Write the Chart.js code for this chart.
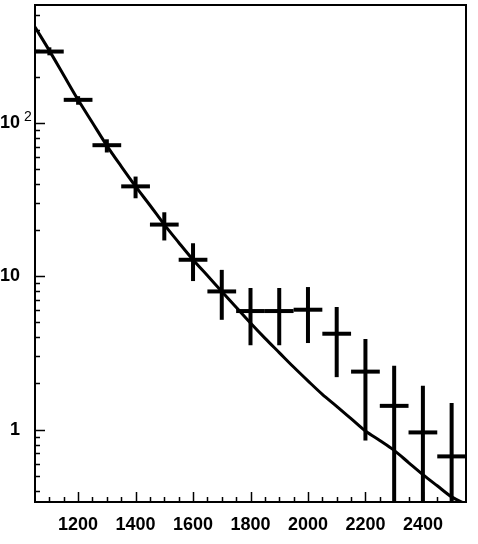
<!DOCTYPE html>
<html>
<head>
<meta charset="utf-8">
<script src="https://cdn.jsdelivr.net/npm/chart.js@4.4.1/dist/chart.umd.min.js"></script>
<style>
html, body { margin: 0; padding: 0; background: #fff; }
</style>
</head>
<body>
<canvas id="grafica" width="478" height="544"></canvas>
<script>
// bins (centre) and measured counts
const binCentres = [1100, 1200, 1300, 1400, 1500, 1600, 1700, 1800, 1900, 2000, 2100, 2200, 2300, 2400, 2500];
const binHalfWidth = 50;
const counts = [291, 141, 71.4, 38.5, 21.7, 12.8, 7.96, 5.93, 5.93, 6.05, 4.22, 2.39, 1.43, 0.96, 0.67];
const errUpper = [310, 149, 78, 44.6, 26.1, 16.4, 11.0, 8.38, 8.38, 8.5, 6.3, 3.9, 2.61, 1.93, 1.49];
// last three bars run below the axis (0.1 = off the bottom, clipped)
const errLower = [275, 131, 64, 32.2, 17.1, 9.3, 5.2, 3.55, 3.55, 3.67, 2.2, 0.85, 0.1, 0.1, 0.1];

// fitted curve
const fitX = [1050, 1100, 1150, 1200, 1250, 1300, 1350, 1400, 1450, 1500, 1550, 1600, 1650, 1700, 1750,
              1800, 1850, 1900, 1950, 2000, 2050, 2100, 2150, 2200, 2250, 2300, 2350, 2400, 2450, 2500, 2550];
const fitY = [420, 295, 204, 141, 100, 71, 52, 38.5, 29, 21.7, 16.6, 12.8, 10.1, 7.96, 6.28,
              4.96, 3.95, 3.18, 2.56, 2.08, 1.70, 1.42, 1.18, 0.98, 0.85, 0.733, 0.611, 0.51, 0.431, 0.365, 0.327];

// axis labels and tick marks
const xLabels = [1200, 1400, 1600, 1800, 2000, 2200, 2400];
const xMinor = [];
for (let v = 1100; v <= 2500; v += 50) xMinor.push(v);
const yLabels = [1, 10, 100];
const yMinor = [0.4, 0.5, 0.6, 0.7, 0.8, 0.9, 2, 3, 4, 5, 6, 7, 8, 9, 20, 30, 40, 50, 60, 70, 80, 90, 200, 300, 400, 500];

const FONT = '"Liberation Sans", Arial, Helvetica, sans-serif';

const datasets = [];
binCentres.forEach((x, i) => {
    datasets.push({
        data: [{ x: x - binHalfWidth, y: counts[i] }, { x: x + binHalfWidth, y: counts[i] }],
        borderColor: '#000', borderWidth: 4, borderCapStyle: 'butt'
    });
    datasets.push({
        data: [{ x: x, y: errLower[i] }, { x: x, y: errUpper[i] }],
        borderColor: '#000', borderWidth: 4, borderCapStyle: 'butt'
    });
});
datasets.push({
    data: fitX.map((x, i) => ({ x: x, y: fitY[i] })),
    borderColor: '#000', borderWidth: 3, cubicInterpolationMode: 'monotone'
});
datasets.forEach(d => { d.showLine = true; d.pointRadius = 0; d.clip = 0; });

// frame, inside tick marks and the superscript of 10^2
const marcoPlugin = {
    id: 'marco',
    afterDatasetsDraw(chart) {
        const ctx = chart.ctx;
        const a = chart.chartArea;
        const xs = chart.scales.x, ys = chart.scales.y;
        ctx.save();
        ctx.strokeStyle = '#000';
        ctx.lineWidth = 1.5;
        ctx.beginPath();
        xMinor.forEach(v => {
            const px = Math.round(xs.getPixelForValue(v)) + 0.5;
            const len = xLabels.includes(v) ? 10 : 5;
            ctx.moveTo(px, a.bottom);
            ctx.lineTo(px, a.bottom - len);
        });
        yMinor.concat(yLabels).forEach(v => {
            const py = Math.round(ys.getPixelForValue(v)) + 0.5;
            const len = yLabels.includes(v) ? 10 : 5;
            ctx.moveTo(a.left, py);
            ctx.lineTo(a.left + len, py);
        });
        ctx.stroke();
        ctx.lineWidth = 2;
        ctx.strokeRect(a.left, a.top, a.right - a.left, a.bottom - a.top);
        ctx.fillStyle = '#000';
        ctx.font = '14px ' + FONT;
        ctx.textAlign = 'left';
        ctx.textBaseline = 'middle';
        ctx.fillText('2', 24, ys.getPixelForValue(100) - 6);
        ctx.restore();
    }
};

new Chart(document.getElementById('grafica').getContext('2d'), {
    type: 'scatter',
    data: { datasets: datasets },
    options: {
        responsive: false,
        devicePixelRatio: 1,
        animation: false,
        layout: { padding: { top: 5, right: 12, left: 0, bottom: 0 } },
        plugins: { legend: { display: false }, tooltip: { enabled: false } },
        scales: {
            x: {
                type: 'linear', min: 1050, max: 2550, bounds: 'data',
                grid: { display: false, drawTicks: false },
                border: { display: false },
                afterBuildTicks: s => { s.ticks = xLabels.map(v => ({ value: v })); },
                afterFit: s => { s.height = 42; s.paddingLeft = 0; s.paddingRight = 0; },
                ticks: {
                    padding: 12, color: '#000', maxRotation: 0,
                    font: { family: FONT, size: 18, weight: 'bold' },
                    callback: v => String(v)
                }
            },
            y: {
                type: 'logarithmic', min: 0.338, max: 585, bounds: 'data',
                grid: { display: false, drawTicks: false },
                border: { display: false },
                afterBuildTicks: s => { s.ticks = yLabels.map(v => ({ value: v })); },
                afterFit: s => { s.width = 35; s.paddingTop = 0; s.paddingBottom = 0; },
                ticks: {
                    padding: 15, color: '#000',
                    font: { family: FONT, size: 18, weight: 'bold' },
                    callback: v => (v === 100 ? '10' : String(v))
                }
            }
        }
    },
    plugins: [marcoPlugin]
});
</script>
</body>
</html>
